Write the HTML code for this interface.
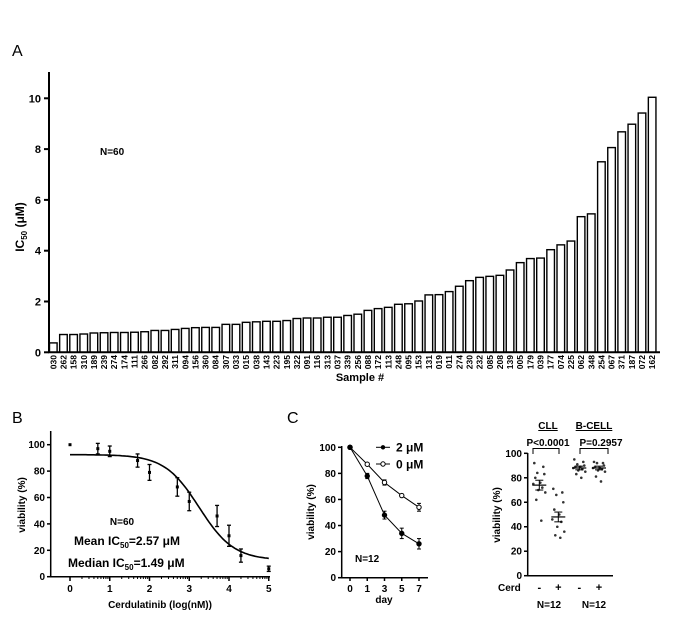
<!DOCTYPE html>
<html><head><meta charset="utf-8"><style>
html,body{margin:0;padding:0;background:#fff;width:700px;height:630px;overflow:hidden}
svg{display:block;font-family:"Liberation Sans",Arial,sans-serif}
text{font-weight:bold}
</style></head><body>
<svg id="fig" width="700" height="630" viewBox="0 0 700 630" xmlns="http://www.w3.org/2000/svg">
<g id="pa"></g>
<g id="pb"></g>
<g id="pc"></g>
<g id="pd"></g>
</svg>
<script>
const sampleIds=["030","262","158","310","189","239","274","174","111","266","082","292","311","094","156","360","084","307","033","015","038","143","223","195","322","091","116","313","037","339","256","088","172","113","248","095","153","131","019","011","274","230","232","085","208","139","005","179","039","177","074","225","062","348","254","067","371","187","072","162"];
const ic50Values=[0.37,0.70,0.70,0.72,0.76,0.77,0.78,0.78,0.79,0.81,0.86,0.86,0.90,0.94,0.97,0.98,0.98,1.10,1.10,1.18,1.20,1.22,1.22,1.25,1.33,1.35,1.35,1.38,1.38,1.45,1.50,1.65,1.72,1.77,1.89,1.91,2.02,2.26,2.27,2.39,2.60,2.82,2.95,2.99,3.03,3.24,3.53,3.69,3.71,4.04,4.23,4.38,5.34,5.45,7.50,8.06,8.68,8.98,9.42,10.04];
const aTicks=[0,2,4,6,8,10];
const doseLog=[0,0.7,1,1.7,2,2.7,3,3.7,4,4.3,5];
const doseViab=[100,97,95,88,79,68,57,46,31,16,6];
const doseErr=[0,4,4,5,6,7,7,8,8,5,2];
const bTicksX=[0,1,2,3,4,5];
const bTicksY=[0,20,40,60,80,100];
const fitParams=[12.5,92.5,3.25,1.0]; // bottom, top, logIC50, hill
const days=["0","1","3","5","7"];
const v2uM=[100,78,48,34,26];
const e2uM=[0,2,3,4,4];
const v0uM=[100,87,73,63,54];
const e0uM=[0,1,2,1,3];
const cTicksY=[0,20,40,60,80,100];
const dGroups=["CLL -","CLL +","B -","B +"];
const dPoints=[[92,89,84,83,80,76,75,72,70,68,62,45],[71,68,66,60,54,50,46,44,40,36,33,31],[95,93,91,90,89,89,88,87,86,85,83,80],[93,92,92,90,89,88,88,87,86,85,81,77]];
const dMeans=[74,48,88,88];
const dSem=[4,4,1.5,1.5];
const dTicksY=[0,20,40,60,80,100];

const NS="http://www.w3.org/2000/svg";
function mk(p,tag,attrs,txt){const e=document.createElementNS(NS,tag);for(const k in attrs)e.setAttribute(k,attrs[k]);if(txt!==undefined)e.textContent=txt;p.appendChild(e);return e;}
function line(p,x1,y1,x2,y2,w){return mk(p,'line',{x1,y1,x2,y2,stroke:'#000','stroke-width':w||1.5});}

// ---------- Panel A
const A=document.getElementById('pa');
const ay=v=>352.3-v*25.4;
const ax=i=>53.3+i*10.15;
let t=mk(A,'text',{x:12,y:56,'font-size':16,style:'font-weight:normal'},'A');


ic50Values.forEach((v,i)=>{
 const r=mk(A,'rect',{x:ax(i)-3.8,y:ay(v),width:7.6,height:ay(0)-ay(v),fill:'#fff',stroke:'#000','stroke-width':1.4});
 
 
 const l=mk(A,'text',{x:0,y:0,'font-size':8.5,'text-anchor':'end',transform:`translate(${ax(i)+3},355) rotate(-90)`},sampleIds[i]);
 
 
});
line(A,49,72,49,353,2);
line(A,48,352.3,660,352.3,2);
aTicks.forEach(v=>{line(A,44,ay(v),49,ay(v),2);
 const l=mk(A,'text',{x:41,y:ay(v)+4,'font-size':11,'text-anchor':'end'},v);
 
 });
t=mk(A,'text',{x:0,y:0,'font-size':12,'text-anchor':'middle',transform:'translate(24,227) rotate(-90)'});
t.innerHTML='IC<tspan font-size="8" dy="3">50</tspan><tspan dy="-3"> (μM)</tspan>';


t=mk(A,'text',{x:360,y:381,'font-size':11,'text-anchor':'middle'},'Sample #');


t=mk(A,'text',{x:100,y:155,'font-size':10},'N=60');



// ---------- Panel B
const B=document.getElementById('pb');
const bx=v=>70+v*39.75, by=v=>576.7-v*1.32;
t=mk(B,'text',{x:12,y:423,'font-size':16,style:'font-weight:normal'},'B');


line(B,50.7,431,50.7,577,1.5);line(B,50,576.7,270,576.7,1.5);
bTicksY.forEach(v=>{line(B,47,by(v),50.7,by(v));
 const l=mk(B,'text',{x:45,y:by(v)+3.5,'font-size':10,'text-anchor':'end'},v);
 
 });
bTicksX.forEach(v=>{line(B,bx(v),576.7,bx(v),581);
 const l=mk(B,'text',{x:bx(v),y:592,'font-size':10,'text-anchor':'middle'},v);
 
 });
for(let d=0;d<5;d++)for(let k=2;k<10;k++){const xx=bx(d+Math.log10(k));line(B,xx,576.7,xx,579,1);}
let dpath='';for(let i=0;i<=100;i++){const x=i*0.05;const [b0,t0,c,h]=fitParams;const y=b0+(t0-b0)/(1+Math.pow(10,(x-c)*h));dpath+=(i?'L':'M')+bx(x).toFixed(1)+' '+by(y).toFixed(1);}
t=mk(B,'path',{d:dpath,fill:'none',stroke:'#000','stroke-width':1.6});


doseLog.forEach((x,i)=>{const g=mk(B,'g',{});
 
 
 if(doseErr[i]>0){line(g,bx(x),by(doseViab[i]+doseErr[i]),bx(x),by(doseViab[i]-doseErr[i]),1.3);
 line(g,bx(x)-2,by(doseViab[i]+doseErr[i]),bx(x)+2,by(doseViab[i]+doseErr[i]),1.3);
 line(g,bx(x)-2,by(doseViab[i]-doseErr[i]),bx(x)+2,by(doseViab[i]-doseErr[i]),1.3);}
 mk(g,'rect',{x:bx(x)-1.5,y:by(doseViab[i])-1.5,width:3,height:3,fill:'#000'});});
t=mk(B,'text',{x:0,y:0,'font-size':10,'text-anchor':'middle',transform:'translate(25,505) rotate(-90)'},'viability (%)');


t=mk(B,'text',{x:160,y:608,'font-size':10,'text-anchor':'middle'},'Cerdulatinib (log(nM))');


t=mk(B,'text',{x:122,y:525,'font-size':10,'text-anchor':'middle'},'N=60');


t=mk(B,'text',{x:74,y:545,'font-size':12});t.innerHTML='Mean IC<tspan font-size="8" dy="3">50</tspan><tspan dy="-3">=2.57 μM</tspan>';


t=mk(B,'text',{x:68,y:567,'font-size':12});t.innerHTML='Median IC<tspan font-size="8" dy="3">50</tspan><tspan dy="-3">=1.49 μM</tspan>';



// ---------- Panel C
const C=document.getElementById('pc');
const cx=i=>350+i*17.25, cy=v=>577.7-v*1.304;
t=mk(C,'text',{x:287,y:423,'font-size':16,style:'font-weight:normal'},'C');


line(C,341.7,446,341.7,578,1.5);line(C,341,577.7,428,577.7,1.5);
cTicksY.forEach(v=>{line(C,338,cy(v),341.7,cy(v));
 const l=mk(C,'text',{x:336,y:cy(v)+3.5,'font-size':10,'text-anchor':'end'},v);
 
 });
days.forEach((d,i)=>{line(C,cx(i),577.7,cx(i),581);
 const l=mk(C,'text',{x:cx(i),y:592,'font-size':10,'text-anchor':'middle'},d);
 
 });
function series(vals,errs,open,name){const g=mk(C,'g',{});
 
 
 mk(g,'polyline',{points:vals.map((v,i)=>cx(i)+','+cy(v)).join(' '),fill:'none',stroke:'#000','stroke-width':1});
 vals.forEach((v,i)=>{if(errs[i]){line(g,cx(i),cy(v+errs[i]),cx(i),cy(v-errs[i]),1);line(g,cx(i)-2,cy(v+errs[i]),cx(i)+2,cy(v+errs[i]),1);line(g,cx(i)-2,cy(v-errs[i]),cx(i)+2,cy(v-errs[i]),1);}
 mk(g,'circle',{cx:cx(i),cy:cy(v),r:2.2,fill:open?'#fff':'#000',stroke:'#000','stroke-width':1});});}
series(v0uM,e0uM,true,'series-0um');
series(v2uM,e2uM,false,'series-2um');
t=mk(C,'g',{});
line(t,376,447.3,390,447.3,1);mk(t,'circle',{cx:383,cy:447.3,r:2.2,fill:'#000'});mk(t,'text',{x:396,y:451.5,'font-size':12},'2 μM');
t=mk(C,'g',{});
line(t,376,464,390,464,1);mk(t,'circle',{cx:383,cy:464,r:2.2,fill:'#fff',stroke:'#000'});mk(t,'text',{x:396,y:468.5,'font-size':12},'0 μM');
t=mk(C,'text',{x:355,y:562,'font-size':10},'N=12');


t=mk(C,'text',{x:384,y:603,'font-size':10,'text-anchor':'middle'},'day');


t=mk(C,'text',{x:0,y:0,'font-size':10,'text-anchor':'middle',transform:'translate(314,512) rotate(-90)'},'viability (%)');



// ---------- Panel D
const D=document.getElementById('pd');
const dxs=[539.3,558.3,579.3,599];
const dy=v=>575.7-v*1.224;
line(D,527.7,453,527.7,576,1.5);line(D,527,575.7,613,575.7,1.5);
dTicksY.forEach(v=>{line(D,524,dy(v),527.7,dy(v));
 const l=mk(D,'text',{x:522,y:dy(v)+3.5,'font-size':10,'text-anchor':'end'},v);
 
 });
const jit=[-5,4,-2,5,-4,1,-6,3,-1,6,-3,2];
dPoints.forEach((pts,gi)=>{const g=mk(D,'g',{});
 
 
 pts.forEach((v,k)=>mk(g,'circle',{cx:dxs[gi]+jit[k],cy:dy(v),r:1.3,fill:'#333'}));
 line(g,dxs[gi]-7,dy(dMeans[gi]),dxs[gi]+7,dy(dMeans[gi]),1.2);
 line(g,dxs[gi],dy(dMeans[gi]+dSem[gi]),dxs[gi],dy(dMeans[gi]-dSem[gi]),1);
 line(g,dxs[gi]-4,dy(dMeans[gi]+dSem[gi]),dxs[gi]+4,dy(dMeans[gi]+dSem[gi]),1);
 line(g,dxs[gi]-4,dy(dMeans[gi]-dSem[gi]),dxs[gi]+4,dy(dMeans[gi]-dSem[gi]),1);
 const s=mk(D,'text',{x:dxs[gi],y:591,'font-size':11,'text-anchor':'middle'},gi%2?'+':'-');
 
 });
t=mk(D,'text',{x:498,y:591,'font-size':10},'Cerd');

t=mk(D,'text',{x:549,y:608,'font-size':10,'text-anchor':'middle'},'N=12');

t=mk(D,'text',{x:594,y:608,'font-size':10,'text-anchor':'middle'},'N=12');

t=mk(D,'text',{x:548,y:429,'font-size':10,'text-anchor':'middle','text-decoration':'underline'},'CLL');

t=mk(D,'text',{x:594,y:429,'font-size':10,'text-anchor':'middle','text-decoration':'underline'},'B-CELL');

t=mk(D,'text',{x:548,y:446,'font-size':10,'text-anchor':'middle'},'P<0.0001');

t=mk(D,'text',{x:601,y:446,'font-size':10,'text-anchor':'middle'},'P=0.2957');

[[533,559],[580,608]].forEach(([a,b])=>{const g=mk(D,'g',{});
 
 
 mk(g,'path',{d:`M${a} 454 L${a} 448.5 L${b} 448.5 L${b} 454`,fill:'none',stroke:'#000','stroke-width':1});});
t=mk(D,'text',{x:0,y:0,'font-size':10,'text-anchor':'middle',transform:'translate(500,515) rotate(-90)'},'viability (%)');


</script>
</body></html>
